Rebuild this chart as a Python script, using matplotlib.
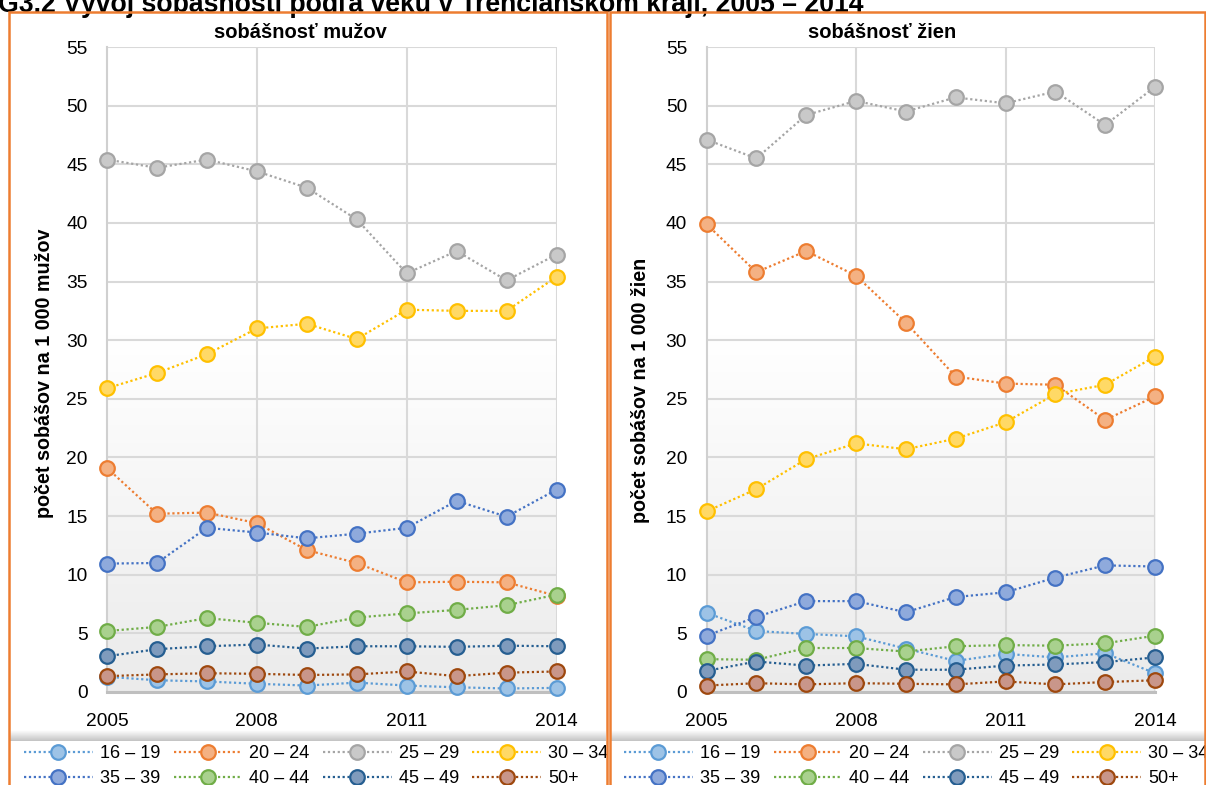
import numpy as np
import matplotlib
matplotlib.use("Agg")
import matplotlib.pyplot as plt
from matplotlib.colors import LinearSegmentedColormap
from matplotlib.patches import Rectangle

plt.rcParams['font.family'] = ['Liberation Sans', 'DejaVu Sans']

# Data
years = [2005, 2006, 2007, 2008, 2009, 2010, 2011, 2012, 2013, 2014]
groups = ["16 – 19", "20 – 24", "25 – 29", "30 – 34", "35 – 39", "40 – 44", "45 – 49", "50+"]

men_16_19 = [1.3, 1.0, 0.9, 0.7, 0.55, 0.8, 0.55, 0.4, 0.3, 0.35]
men_20_24 = [19.1, 15.2, 15.3, 14.4, 12.1, 11.0, 9.35, 9.4, 9.35, 8.2]
men_25_29 = [45.4, 44.7, 45.4, 44.4, 43.0, 40.3, 35.7, 37.6, 35.1, 37.3]
men_30_34 = [25.9, 27.2, 28.8, 31.0, 31.4, 30.1, 32.6, 32.5, 32.5, 35.4]
men_35_39 = [10.95, 11.0, 14.0, 13.6, 13.1, 13.5, 14.0, 16.3, 14.95, 17.25]
men_40_44 = [5.2, 5.55, 6.3, 5.9, 5.55, 6.35, 6.7, 7.0, 7.4, 8.3]
men_45_49 = [3.05, 3.65, 3.9, 4.05, 3.7, 3.9, 3.9, 3.85, 3.95, 3.9]
men_50 = [1.35, 1.5, 1.6, 1.55, 1.45, 1.5, 1.75, 1.35, 1.65, 1.75]

women_16_19 = [6.75, 5.2, 4.95, 4.75, 3.7, 2.65, 3.25, 2.95, 3.3, 1.6]
women_20_24 = [39.9, 35.8, 37.6, 35.5, 31.5, 26.9, 26.3, 26.2, 23.2, 25.2]
women_25_29 = [47.1, 45.5, 49.2, 50.4, 49.5, 50.7, 50.2, 51.2, 48.35, 51.6]
women_30_34 = [15.4, 17.3, 19.85, 21.2, 20.7, 21.6, 23.0, 25.4, 26.2, 28.6]
women_35_39 = [4.8, 6.4, 7.75, 7.75, 6.8, 8.1, 8.5, 9.75, 10.8, 10.7]
women_40_44 = [2.8, 2.75, 3.75, 3.75, 3.45, 3.9, 4.0, 3.95, 4.15, 4.8]
women_45_49 = [1.8, 2.6, 2.25, 2.4, 1.9, 1.9, 2.25, 2.35, 2.55, 2.95]
women_50 = [0.55, 0.75, 0.65, 0.75, 0.7, 0.65, 0.9, 0.65, 0.85, 1.0]

men = [men_16_19, men_20_24, men_25_29, men_30_34, men_35_39, men_40_44, men_45_49, men_50]
women = [women_16_19, women_20_24, women_25_29, women_30_34, women_35_39, women_40_44, women_45_49, women_50]

line_colors = ['#5b9bd5', '#ed7d31', '#a5a5a5', '#ffc000', '#4472c4', '#70ad47', '#255e91', '#9e480e']
face_colors = ['#9dc3e6', '#f4b183', '#c9c9c9', '#ffd966', '#8faadc', '#a9d18e', '#7f9bbd', '#c9968a']

W, H = 1206, 785
fig = plt.figure(figsize=(W / 100, H / 100), dpi=100)
fig.patch.set_facecolor('white')

grad_cmap = LinearSegmentedColormap.from_list('g', [(0, '#ebebeb'), (0.55, '#ffffff'), (1, '#ffffff')])
dots = (0, (1, 1.2))
FS = 13


def fx(px):
    return px / W


def fy(py):
    return 1 - py / H


def panel(rect, data, title, title_x, ylabel, ylabel_x, ylabel_y):
    ax = fig.add_axes(rect)
    ax.set_xlim(2005, 2014)
    ax.set_ylim(0, 55)
    grad = np.linspace(0, 1, 256).reshape(-1, 1)
    ax.imshow(grad, cmap=grad_cmap, origin='lower', aspect='auto',
              extent=[0, 1, 0, 1], transform=ax.transAxes, zorder=0)
    for v in range(5, 56, 5):
        ax.axhline(v, color='#d9d9d9', lw=1.5, zorder=1)
    for yv in [2008, 2011, 2014]:
        ax.axvline(yv, color='#d9d9d9', lw=1.5, zorder=1)
    for s in ['top', 'right']:
        ax.spines[s].set_visible(False)
    ax.spines['left'].set_color('#d0d0d0')
    ax.spines['left'].set_linewidth(1.5)
    ax.spines['bottom'].set_color('#bfbfbf')
    ax.spines['bottom'].set_linewidth(2.2)
    ax.set_yticks(range(0, 56, 5))
    ax.set_xticks([2005, 2008, 2011, 2014])
    ax.tick_params(length=0, labelsize=13.8, colors='black')
    ax.tick_params(axis='y', pad=14)
    ax.tick_params(axis='x', pad=15)
    handles = []
    for vals, lc, fc, g in zip(data, line_colors, face_colors, groups):
        h, = ax.plot(years, vals, ls=dots, lw=1.6, color=lc, marker='o', ms=10.5,
                     mfc=fc, mec=lc, mew=1.6, clip_on=False, zorder=3, label=g)
        handles.append(h)
    fig.text(fx(title_x), fy(32), title, ha='center', va='center',
             fontsize=14.5, fontweight='bold')
    fig.text(fx(ylabel_x), fy(ylabel_y), ylabel, ha='center', va='center',
             rotation=90, fontsize=14.2, fontweight='bold')
    return ax, handles


ax1, h1 = panel([fx(107), fy(692), (556.5 - 107) / W, 645 / H], men,
                'sobášnosť mužov', 300, 'počet sobášov na 1 000 mužov', 45, 373)
ax2, h2 = panel([fx(706.5), fy(692), (1155 - 706.5) / W, 645 / H], women,
                'sobášnosť žien', 882, 'počet sobášov na 1 000 žien', 641, 390)

# shadow bands above legends
for x0, x1 in [(10, 606), (610, 1206)]:
    sax = fig.add_axes([fx(x0), fy(741), (x1 - x0) / W, 11 / H])
    sax.imshow(np.linspace(0, 1, 32).reshape(-1, 1), cmap=LinearSegmentedColormap.from_list(
        's', ['#c4c4c4', '#ffffff']), origin='lower', aspect='auto')
    sax.axis('off')

order = [0, 4, 1, 5, 2, 6, 3, 7]
for hs, x0 in [(h1, 24), (h2, 624)]:
    fig.legend([hs[i] for i in order], [groups[i] for i in order],
               loc='upper left', bbox_to_anchor=(fx(x0), fy(745)), ncol=4,
               frameon=False, fontsize=FS, handlelength=3.8, handletextpad=0.39,
               columnspacing=0.75, labelspacing=0.45, borderpad=0, borderaxespad=0,
               numpoints=1)

# panel borders
for x0, x1 in [(9, 607), (610, 1205)]:
    fig.patches.append(Rectangle((fx(x0), fy(800)), (x1 - x0) / W, (800 - 12.5) / H,
                                 transform=fig.transFigure, fill=False,
                                 edgecolor='#ed7d31', lw=1.8, zorder=10))

fig.text(fx(-2), fy(12), 'G3.2 Vývoj sobášnosti podľa veku v Trenčianskom kraji, 2005 – 2014',
         ha='left', va='baseline', fontsize=19.2, fontweight='bold')

fig.savefig('out.png', dpi=100)
